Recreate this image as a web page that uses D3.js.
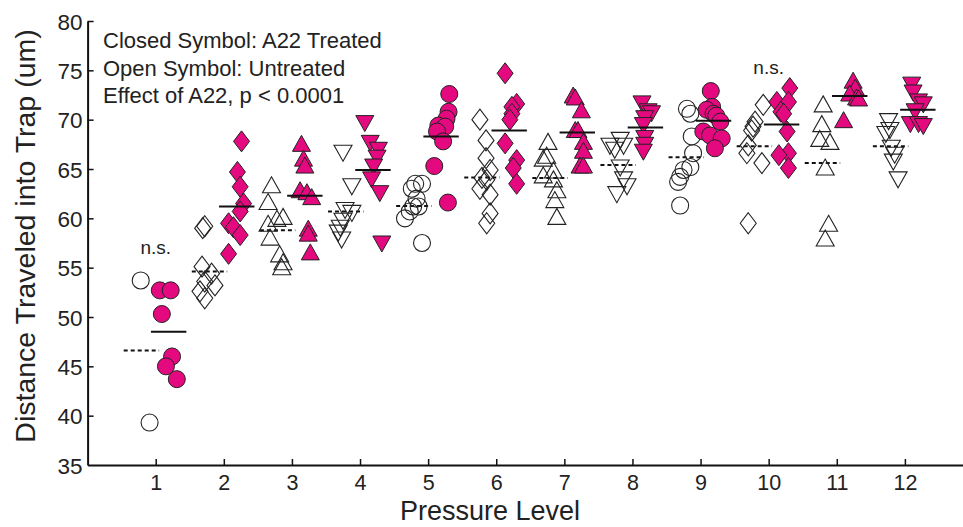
<!DOCTYPE html>
<html>
  <head>
    <meta charset="utf-8">
    <script type="text/javascript" src="https://cdn.jsdelivr.net/npm/d3@7/dist/d3.min.js"></script>
    <style>
        body { margin:0; background:#fff; }
        svg { display:block; font-family: "Liberation Sans", Arial, sans-serif; }
    </style>
  </head>
  <body>
    <script type="text/javascript">
      var width = 963,
          height = 527;

      // pressure levels and the symbol used for each one
      var levels = [1, 2, 3, 4, 5, 6, 7, 8, 9, 10, 11, 12];
      var shapes = ["circle", "diamond", "up", "down", "circle", "diamond", "up", "down", "circle", "diamond", "up", "down"];

      // untreated (open symbols): [x position in level units, distance]
      var untreated = [
        [[0.78, 53.7], [0.91, 39.3]],
        [[1.72, 59.2], [1.69, 59.0], [1.68, 55.1], [1.82, 54.4], [1.72, 53.6], [1.87, 53.2], [1.65, 52.6], [1.72, 51.9]],
        [[2.70, 63.4], [2.65, 61.7], [2.87, 60.2], [2.78, 60.0], [2.65, 59.5], [2.68, 58.1], [2.82, 56.4], [2.87, 55.6], [2.85, 55.1]],
        [[3.75, 66.6], [3.88, 63.2], [3.78, 60.8], [3.88, 60.5], [3.75, 59.7], [3.71, 59.0], [3.68, 58.5], [3.73, 57.8]],
        [[4.81, 63.5], [4.91, 63.5], [4.76, 63.0], [4.83, 62.0], [4.78, 61.2], [4.86, 61.2], [4.73, 60.7], [4.66, 60.0], [4.91, 57.5]],
        [[5.76, 70.0], [5.85, 67.9], [5.85, 66.1], [5.91, 64.9], [5.79, 64.1], [5.86, 63.9], [5.76, 63.0], [5.91, 62.4], [5.91, 60.5], [5.86, 59.5]],
        [[6.76, 67.8], [6.74, 66.4], [6.69, 66.1], [6.84, 64.9], [6.69, 64.4], [6.84, 64.0], [6.89, 62.9], [6.86, 61.9], [6.89, 60.2]],
        [[7.82, 67.9], [7.67, 67.3], [7.74, 66.9], [7.87, 67.3], [7.82, 65.1], [7.87, 63.9], [7.92, 63.2], [7.77, 62.4]],
        [[8.80, 71.1], [8.85, 70.6], [8.87, 68.3], [8.89, 66.6], [8.85, 65.2], [8.75, 64.9], [8.70, 64.2], [8.67, 63.7], [8.70, 61.3]],
        [[9.92, 71.5], [9.80, 69.8], [9.77, 69.3], [9.75, 68.9], [9.70, 67.4], [9.68, 66.6], [9.90, 65.6], [9.70, 59.5]],
        [[10.80, 71.6], [10.78, 69.6], [10.75, 68.1], [10.90, 67.8], [10.83, 65.2], [10.88, 59.5], [10.83, 58.0]],
        [[11.76, 69.8], [11.78, 68.9], [11.72, 68.5], [11.80, 67.1], [11.85, 66.4], [11.83, 65.7], [11.90, 63.9]]
      ];

      // A22 treated (closed symbols)
      var treated = [
        [[1.06, 52.7], [1.22, 52.7], [1.09, 50.3], [1.24, 46.0], [1.15, 45.0], [1.31, 43.7]],
        [[2.26, 67.8], [2.20, 64.7], [2.24, 63.2], [2.29, 61.5], [2.24, 60.7], [2.07, 59.5], [2.14, 59.1], [2.24, 58.3], [2.07, 56.4]],
        [[3.14, 67.6], [3.17, 66.1], [3.19, 65.4], [3.12, 62.9], [3.22, 62.7], [3.29, 62.2], [3.24, 59.0], [3.24, 58.5], [3.27, 56.6]],
        [[4.07, 69.6], [4.15, 67.6], [4.27, 66.9], [4.25, 66.1], [4.20, 65.2], [4.17, 63.9], [4.29, 62.5], [4.32, 57.4]],
        [[5.31, 72.6], [5.30, 70.8], [5.27, 70.1], [5.15, 69.4], [5.25, 69.3], [5.13, 68.8], [5.22, 67.8], [5.09, 65.3], [5.29, 61.6]],
        [[6.13, 74.7], [6.30, 71.6], [6.23, 71.3], [6.23, 70.6], [6.20, 70.0], [6.13, 67.6], [6.30, 65.9], [6.25, 65.1], [6.30, 63.5]],
        [[7.13, 72.5], [7.16, 72.3], [7.25, 71.0], [7.16, 69.0], [7.20, 69.0], [7.28, 67.8], [7.28, 66.9], [7.23, 65.4], [7.28, 65.4]],
        [[8.14, 71.6], [8.23, 70.8], [8.28, 70.6], [8.18, 70.1], [8.16, 69.4], [8.18, 68.1], [8.18, 67.4], [8.16, 66.7]],
        [[9.15, 72.9], [9.17, 71.3], [9.09, 71.0], [9.19, 70.6], [9.23, 70.4], [9.29, 69.8], [9.04, 68.8], [9.14, 68.4], [9.31, 68.1], [9.21, 67.1]],
        [[10.31, 73.2], [10.12, 71.8], [10.29, 71.8], [10.18, 70.8], [10.22, 70.6], [10.27, 68.8], [10.29, 66.6], [10.15, 66.4], [10.29, 65.1]],
        [[11.24, 74.0], [11.27, 73.3], [11.19, 72.7], [11.29, 72.3], [11.32, 72.2], [11.10, 70.0]],
        [[12.10, 73.5], [12.12, 72.7], [12.20, 71.8], [12.27, 71.5], [12.15, 70.8], [12.08, 69.5], [12.20, 69.5], [12.27, 69.3]]
      ];

      var untreatedMean = [46.6, 54.6, 58.8, 60.7, 61.25, 64.15, 64.1, 65.4, 66.2, 67.3, 65.6, 67.3];
      var treatedMean = [48.5, 61.2, 62.3, 64.9, 68.3, 68.9, 68.7, 69.2, 69.9, 69.5, 72.4, 71.0];

      var nsLabels = [[1, 56.4], [10, 74.6]];
      var legendLines = ["Closed Symbol: A22 Treated", "Open Symbol: Untreated", "Effect of A22, p < 0.0001"];
      var yTicks = [35, 40, 45, 50, 55, 60, 65, 70, 75, 80];

      var magenta = "#e5097f";

      var svg = d3.select("body").append("svg")
          .attr("width", width)
          .attr("height", height);

      var x = d3.scaleLinear().domain([0, 13]).range([87.6, 973]);
      var y = d3.scaleLinear().domain([35, 80]).range([465, 21]);

      // symbol outlines, centred on the point
      function shapePath(s) {
        if (s == "circle") return d3.symbol().type(d3.symbolCircle).size(Math.PI * 8.5 * 8.5)();
        if (s == "diamond") return "M0,-10.5L8,0L0,10.5L-8,0Z";
        if (s == "up") return "M0,-8L9,8L-9,8Z";
        return "M0,8L9,-8L-9,-8Z";
      }

      // axes
      var xAxis = svg.append("g")
          .attr("transform", "translate(0," + y(35) + ")")
          .call(d3.axisBottom(x).tickValues(levels).tickSizeInner(-6).tickSizeOuter(0).tickPadding(10));
      var yAxis = svg.append("g")
          .attr("transform", "translate(" + x(0) + ",0)")
          .call(d3.axisLeft(y).tickValues(yTicks).tickSizeInner(-6).tickSizeOuter(0).tickPadding(5));

      [xAxis, yAxis].forEach(function(a) {
        a.select(".domain").attr("stroke", "#111").attr("stroke-width", 2);
        a.selectAll(".tick line").attr("stroke", "#111").attr("stroke-width", 1.5);
        a.selectAll(".tick text")
          .attr("font-family", "Liberation Sans, Arial, sans-serif")
          .attr("font-size", 21.5)
          .attr("fill", "#222");
      });
      yAxis.selectAll(".tick text").attr("font-size", 22.5).attr("dy", "0.36em");
      yAxis.selectAll(".tick").filter(function(d) { return d == 35; }).select("line").remove();

      // axis titles
      svg.append("text")
          .attr("x", 490)
          .attr("y", 520)
          .attr("text-anchor", "middle")
          .attr("font-size", 27)
          .attr("fill", "#222")
          .text("Pressure Level");

      svg.append("text")
          .attr("transform", "translate(35,236) rotate(-90)")
          .attr("text-anchor", "middle")
          .attr("font-size", 28.5)
          .attr("fill", "#222")
          .text("Distance Traveled into Trap (um)");

      // legend text
      svg.selectAll(".legend")
          .data(legendLines)
          .enter().append("text")
          .attr("class", "legend")
          .attr("x", 103)
          .attr("y", function(d, i) { return 48 + i * 27.5; })
          .attr("font-size", 22)
          .attr("fill", "#222")
          .text(function(d) { return d; });

      // n.s. labels
      svg.selectAll(".ns")
          .data(nsLabels)
          .enter().append("text")
          .attr("class", "ns")
          .attr("x", function(d) { return x(d[0]); })
          .attr("y", function(d) { return y(d[1]); })
          .attr("text-anchor", "middle")
          .attr("font-size", 19)
          .attr("fill", "#222")
          .text("n.s.");

      // mean lines
      svg.selectAll(".umean")
          .data(untreatedMean)
          .enter().append("line")
          .attr("x1", function(d, i) { return x(levels[i] - 0.47); })
          .attr("x2", function(d, i) { return x(levels[i] + 0.05); })
          .attr("y1", function(d) { return y(d); })
          .attr("y2", function(d) { return y(d); })
          .attr("stroke", "#111")
          .attr("stroke-width", 2)
          .attr("stroke-dasharray", "4,3");

      // open symbols
      untreated.forEach(function(pts, i) {
        svg.selectAll(null)
            .data(pts)
            .enter().append("path")
            .attr("d", shapePath(shapes[i]))
            .attr("transform", function(d) { return "translate(" + x(d[0]) + "," + y(d[1]) + ")"; })
            .attr("fill", "none")
            .attr("stroke", "#222")
            .attr("stroke-width", 1.1);
      });

      // closed symbols
      treated.forEach(function(pts, i) {
        svg.selectAll(null)
            .data(pts)
            .enter().append("path")
            .attr("d", shapePath(shapes[i]))
            .attr("transform", function(d) { return "translate(" + x(d[0]) + "," + y(d[1]) + ")"; })
            .attr("fill", magenta)
            .attr("stroke", "#222")
            .attr("stroke-width", 1);
      });

      svg.selectAll(".tmean")
          .data(treatedMean)
          .enter().append("line")
          .attr("x1", function(d, i) { return x(levels[i] - 0.07); })
          .attr("x2", function(d, i) { return x(levels[i] + 0.45); })
          .attr("y1", function(d) { return y(d); })
          .attr("y2", function(d) { return y(d); })
          .attr("stroke", "#111")
          .attr("stroke-width", 2);
    </script>
  </body>
</html>
